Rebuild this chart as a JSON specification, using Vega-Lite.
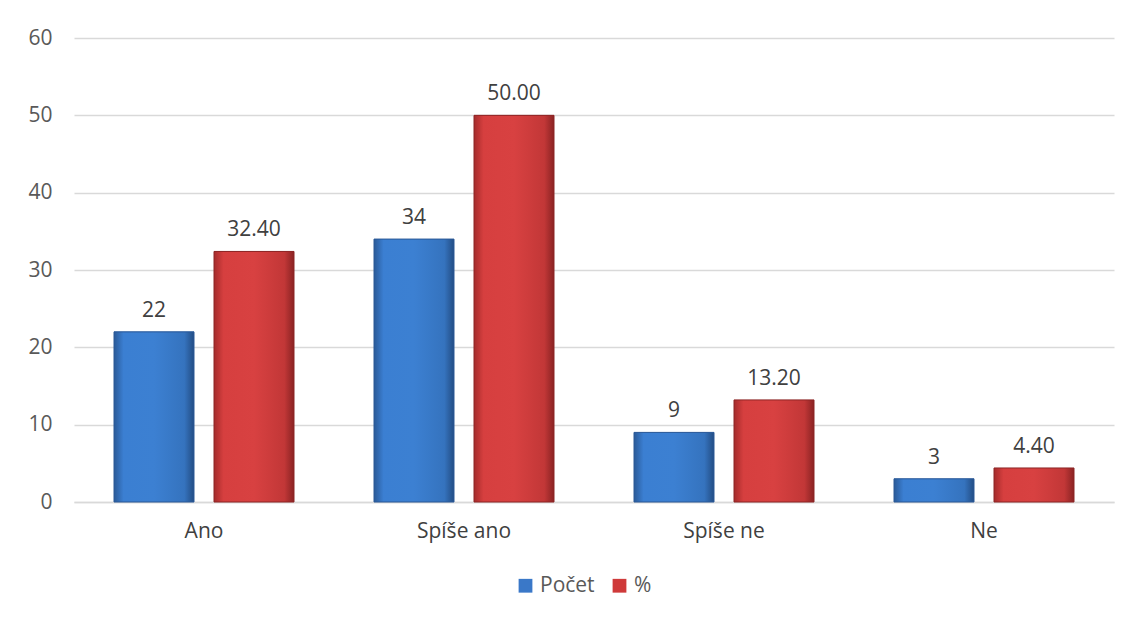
{
  "$schema": "https://vega.github.io/schema/vega-lite/v6.json",
  "width": 1040,
  "height": 464,
  "autosize": {"type": "none"},
  "padding": {"left": 74, "top": 38, "right": 18, "bottom": 116},
  "background": "white",
  "config": {
    "font": "Open Sans",
    "view": {"stroke": null},
    "axis": {"labelFont": "Open Sans", "labelColor": "#595959", "labelFontSize": 21},
    "legend": {"labelFont": "Open Sans", "labelFontSize": 21, "labelColor": "#595959"}
  },
  "data": {
    "values": [
      {"kategorie": "Ano", "rada": "Počet", "hodnota": 22, "popisek": "22"},
      {"kategorie": "Ano", "rada": "%", "hodnota": 32.4, "popisek": "32.40"},
      {"kategorie": "Spíše ano", "rada": "Počet", "hodnota": 34, "popisek": "34"},
      {"kategorie": "Spíše ano", "rada": "%", "hodnota": 50.0, "popisek": "50.00"},
      {"kategorie": "Spíše ne", "rada": "Počet", "hodnota": 9, "popisek": "9"},
      {"kategorie": "Spíše ne", "rada": "%", "hodnota": 13.2, "popisek": "13.20"},
      {"kategorie": "Ne", "rada": "Počet", "hodnota": 3, "popisek": "3"},
      {"kategorie": "Ne", "rada": "%", "hodnota": 4.4, "popisek": "4.40"}
    ]
  },
  "encoding": {
    "x": {
      "field": "kategorie", "type": "nominal",
      "sort": ["Ano", "Spíše ano", "Spíše ne", "Ne"],
      "scale": {"paddingInner": 0, "paddingOuter": 0},
      "axis": {"title": null, "labelAngle": 0, "ticks": false, "domainColor": "#d9d9d9", "domainWidth": 1.5, "labelPadding": 18, "labelColor": "#404040"}
    },
    "xOffset": {
      "field": "rada", "type": "nominal",
      "sort": ["Počet", "%"],
      "scale": {"domain": ["Počet", "%"], "paddingInner": 0.2, "paddingOuter": 0.4}
    },
    "y": {
      "field": "hodnota", "type": "quantitative",
      "scale": {"domain": [0, 60]},
      "axis": {"title": null, "values": [0, 10, 20, 30, 40, 50, 60], "labelOverlap": false, "domain": false, "ticks": false, "gridColor": "#d9d9d9", "gridWidth": 1.3, "labelPadding": 22}
    }
  },
  "layer": [
    {
      "mark": {"type": "bar"},
      "encoding": {
        "color": {
          "field": "rada", "type": "nominal",
          "scale": {"domain": ["Počet", "%"], "range": ["#3a78c8", "#cf3a3a"]},
          "legend": {"title": null, "orient": "none", "legendX": 441, "legendY": 537, "direction": "horizontal", "symbolType": "square", "symbolSize": 190, "columnPadding": 14, "labelOffset": 4}
        }
      }
    },
    {
      "transform": [{"filter": "datum.rada === 'Počet'"}],
      "mark": {
        "type": "bar",
        "stroke": "#2a5896", "strokeWidth": 1,
        "fill": {
          "gradient": "linear", "x1": 0, "y1": 0, "x2": 1, "y2": 0,
          "stops": [
            {"offset": 0, "color": "#2a5a98"},
            {"offset": 0.12, "color": "#3b7fd2"},
            {"offset": 0.5, "color": "#3c80d2"},
            {"offset": 0.88, "color": "#3573be"},
            {"offset": 1, "color": "#234d84"}
          ]
        }
      }
    },
    {
      "transform": [{"filter": "datum.rada === '%'"}],
      "mark": {
        "type": "bar",
        "stroke": "#8c2424", "strokeWidth": 1,
        "fill": {
          "gradient": "linear", "x1": 0, "y1": 0, "x2": 1, "y2": 0,
          "stops": [
            {"offset": 0, "color": "#a52c2c"},
            {"offset": 0.12, "color": "#d63f3f"},
            {"offset": 0.5, "color": "#d84141"},
            {"offset": 0.88, "color": "#c23737"},
            {"offset": 1, "color": "#8a2323"}
          ]
        }
      }
    },
    {
      "mark": {"type": "text", "baseline": "bottom", "dy": -11, "fontSize": 21, "color": "#404040", "font": "Open Sans"},
      "encoding": {"text": {"field": "popisek"}}
    }
  ]
}
